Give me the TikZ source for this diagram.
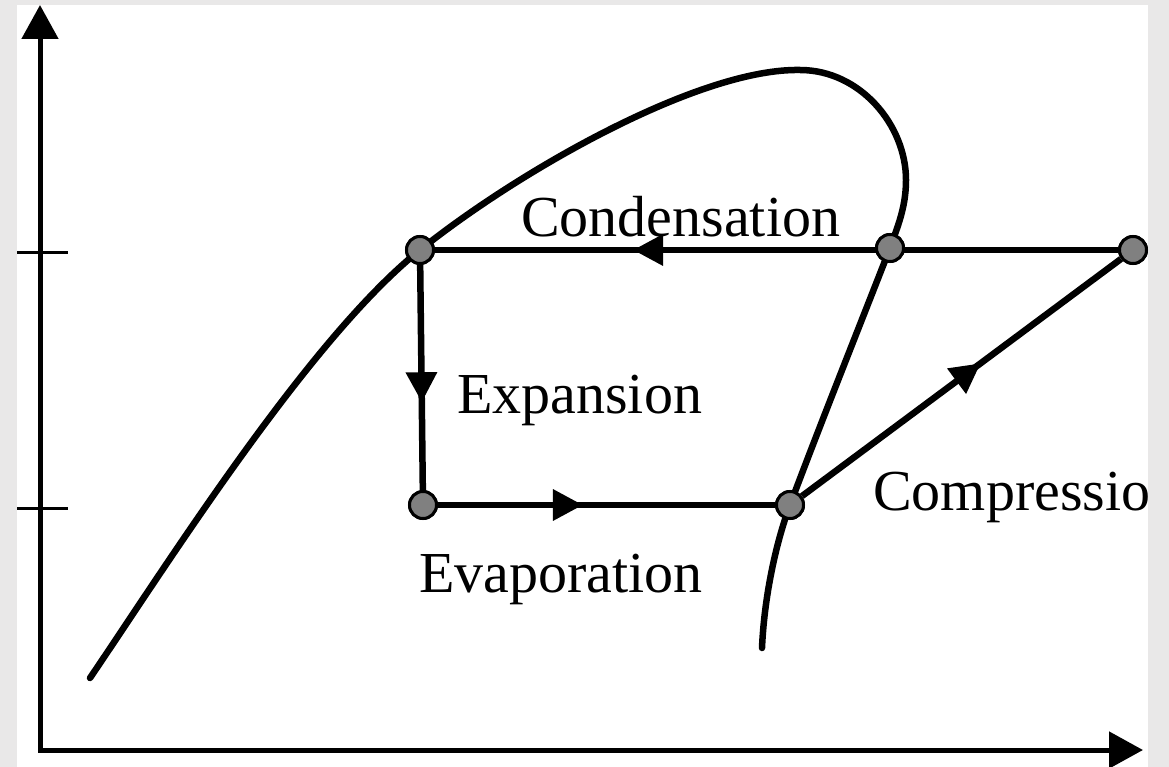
\documentclass[tikz,border=0pt]{standalone}
\usepackage{fontspec}
\setmainfont{Liberation Serif}
\usetikzlibrary{arrows.meta,decorations.markings}
\definecolor{bordergray}{RGB}{233,232,232}
\definecolor{ptgray}{RGB}{128,128,128}
\tikzset{
  curveline/.style={line width=6.5pt, line cap=round, line join=round},
  procline/.style={line width=6.5pt, postaction={decorate}},
  axisline/.style={line width=5pt, line join=miter},
  tickline/.style={line width=3pt},
  statept/.style={circle, draw=black, line width=3pt, fill=ptgray, minimum size=27pt, inner sep=0pt},
  lbl/.style={font=\fontsize{58}{60}\selectfont, inner sep=0pt, anchor=base west},
  midarrow/.style={decoration={markings, mark=at position #1 with {\arrow{Triangle[length=30pt,width=30pt]}}}},
  axistip/.tip={Triangle[length=34pt,width=36pt]}
}
\begin{document}
\begin{tikzpicture}[x=1pt,y=-1pt]
\useasboundingbox (0,0) rectangle (1169,767);
\fill[bordergray] (0,0) rectangle (1169,767);
\fill[white] (17,5) rectangle (1148,767);
\begin{scope}
\clip (17,5) rectangle (1148,767);
% axes
\coordinate (O) at (40,750);
\coordinate (Ytop) at (40,5);
\coordinate (Xend) at (1143,750);
\draw[axisline, axistip-axistip] (Ytop) -- (O) -- (Xend);
\coordinate (T1a) at (17,253);
\coordinate (T1b) at (68,253);
\coordinate (T2a) at (17,508);
\coordinate (T2b) at (68,508);
\draw[tickline] (T1a) -- (T1b);
\draw[tickline] (T2a) -- (T2b);
% state points
\coordinate (A0) at (420,250);
\coordinate (B0) at (890,248);
\coordinate (C0) at (1133,250);
\coordinate (D0) at (423,505);
\coordinate (E0) at (790,505);
% saturation dome
\draw[curveline] (90,678) .. controls (170,560) and (310,338) .. (A0)
  .. controls (520,170) and (700,68) .. (800,70)
  .. controls (860,70) and (906,125) .. (906,180)
  .. controls (906,208) and (897,228) .. (B0)
  .. controls (856,335) and (820,425) .. (E0)
  .. controls (775,545) and (764,600) .. (762,648);
% nodes
\node[statept] (A) at (A0) {};
\node[statept] (B) at (B0) {};
\node[statept] (C) at (C0) {};
\node[statept] (D) at (D0) {};
\node[statept] (E) at (E0) {};
% process lines
\draw[procline, midarrow=0.71] (C) -- (A);
\draw[procline, midarrow=0.61] (A) -- (D);
\draw[procline, midarrow=0.43] (D) -- (E);
\draw[procline, midarrow=0.56] (E) -- (C);
% redraw nodes on top
\node[statept] at (A0) {};
\node[statept] at (B0) {};
\node[statept] at (C0) {};
\node[statept] at (D0) {};
\node[statept] at (E0) {};
% labels
\node[lbl] (lcond) at (521,237) {Condensation};
\node[lbl] (lexp) at (457,413) {Expansion};
\node[lbl] (levap) at (419,592) {Evaporation};
\node[lbl] (lcomp) at (873,510) {Compressio};
\end{scope}
\end{tikzpicture}
\end{document}
